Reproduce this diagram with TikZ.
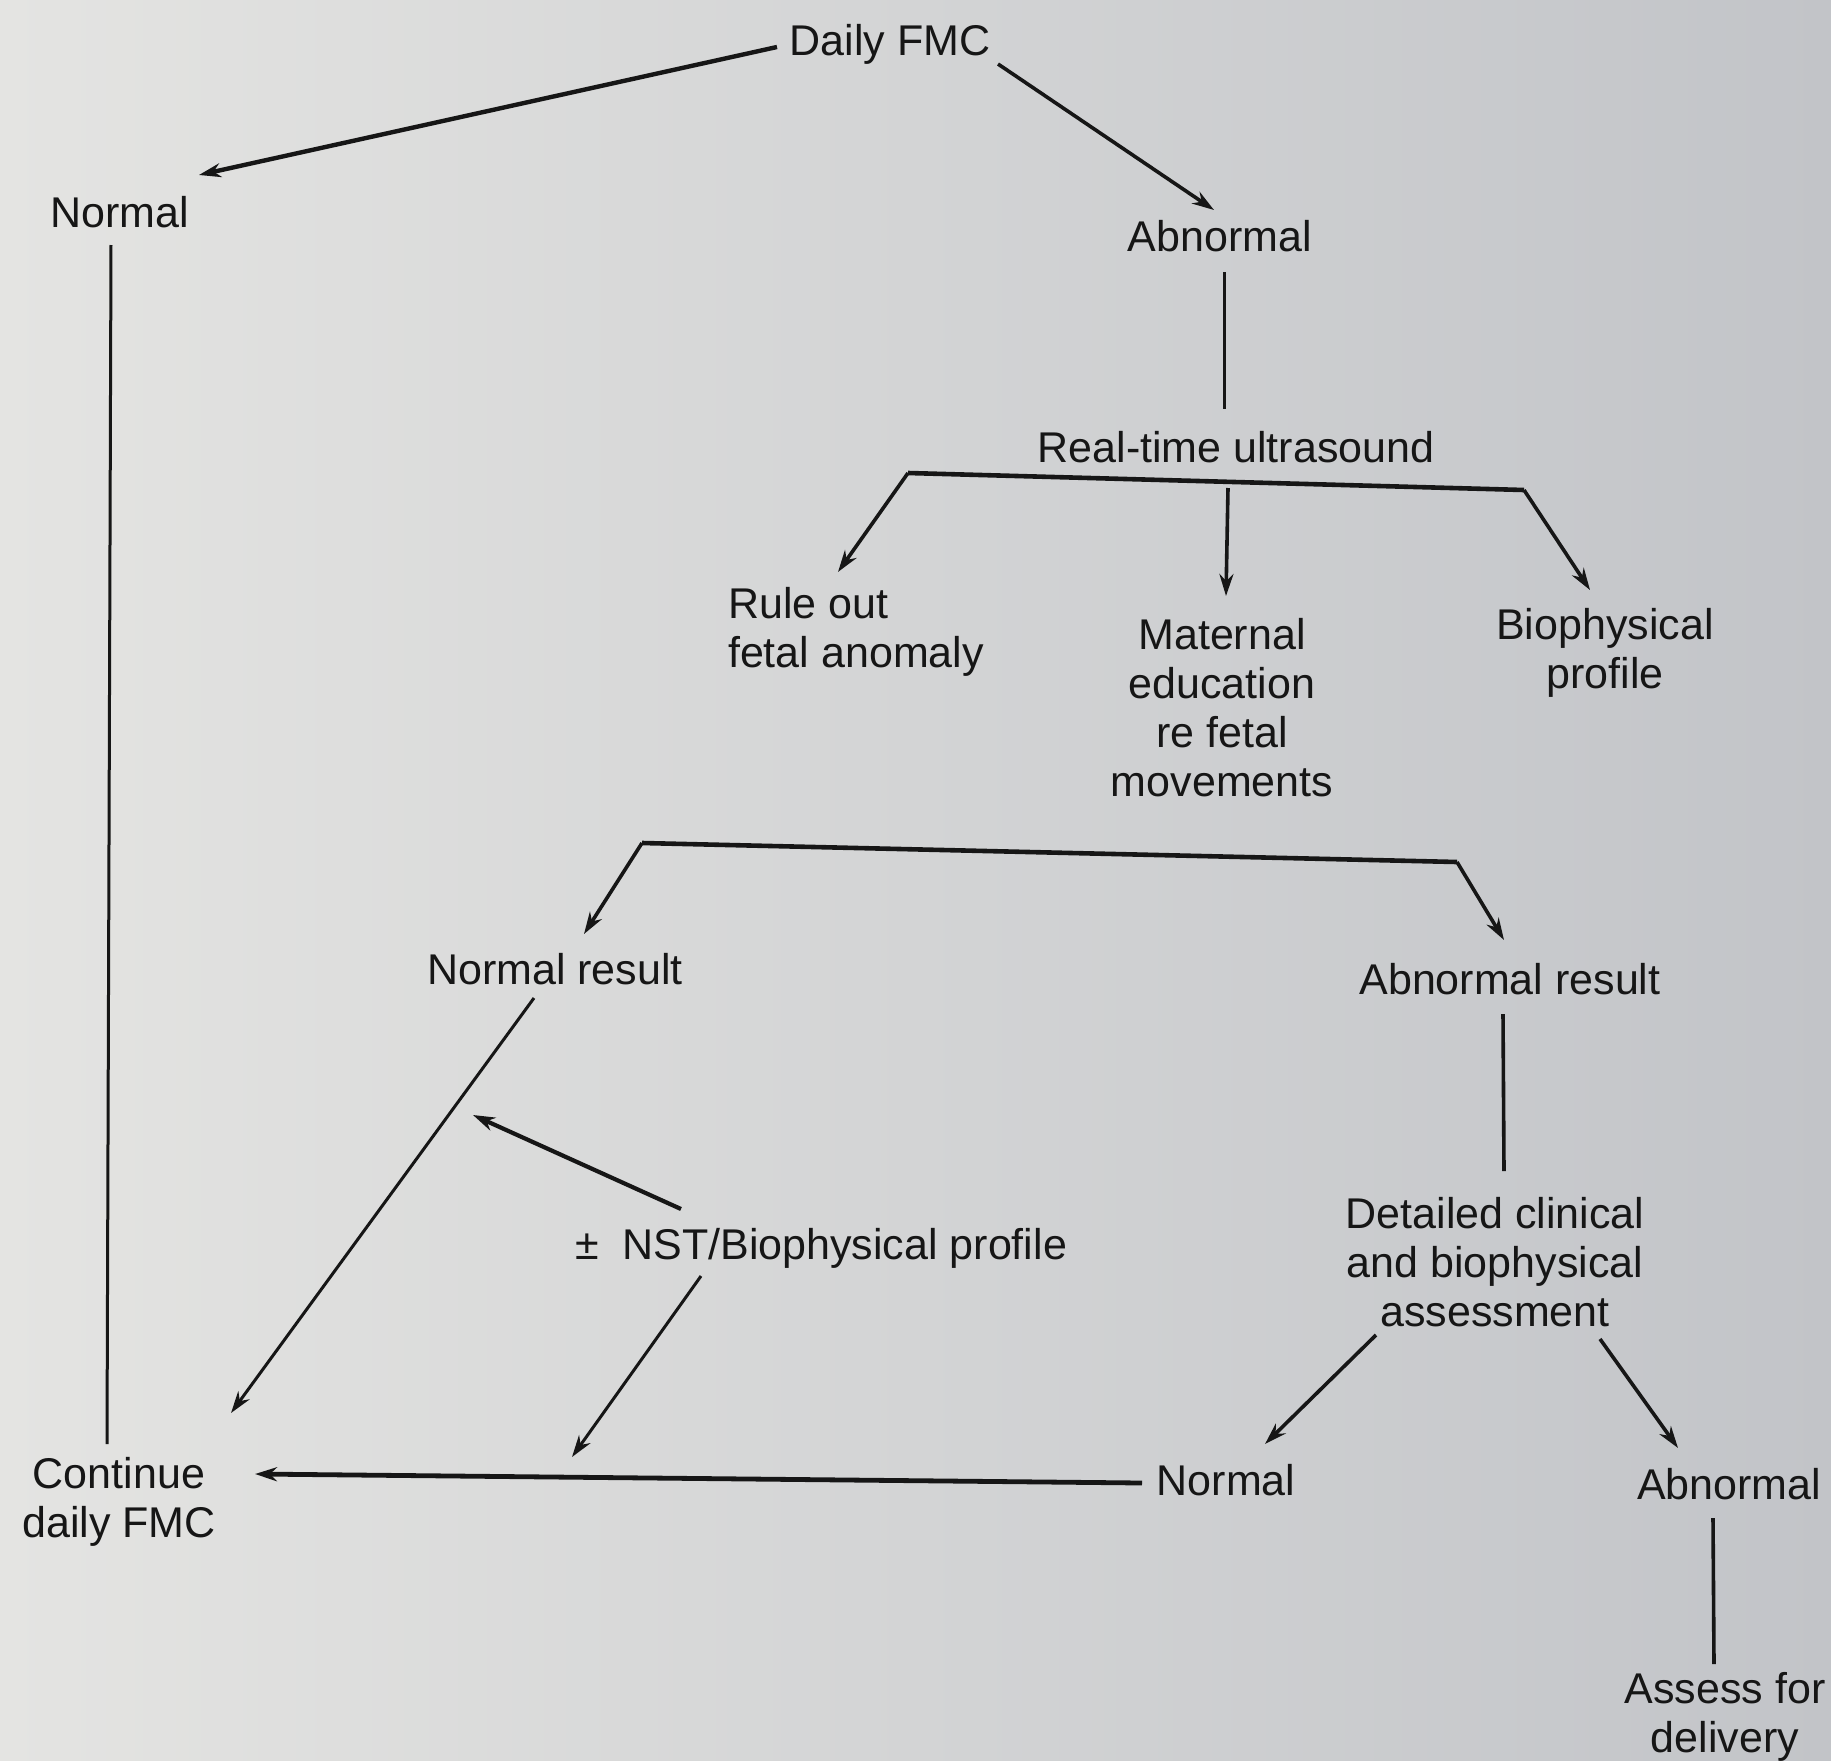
\documentclass[tikz,border=0pt]{standalone}
\usepackage{fontspec}
\setmainfont{Liberation Sans}
\usetikzlibrary{arrows.meta,calc}
\definecolor{bgleft}{RGB}{228,228,226}
\definecolor{bgright}{RGB}{194,196,200}
\definecolor{ink}{RGB}{22,22,22}
\begin{document}
\begin{tikzpicture}[x=1pt,y=-1pt,
  lbl/.style={text=ink,inner sep=0pt,align=center,font=\fontsize{43}{49}\selectfont},
  conn/.style={draw=ink,line width=3.6pt},
  bar/.style={draw=ink,line width=4.6pt},
  arr/.style={conn,-{Stealth[length=22pt,width=14pt]}}]
\useasboundingbox (0,0) rectangle (1831,1761);
\shade[left color=bgleft,right color=bgright] (0,0) rectangle (1831,1761);

% nodes
\node[lbl] (dfmc) at (890,44) {Daily FMC};
\node[lbl] (norm1) at (120,212) {Normal};
\node[lbl] (abn1) at (1220,236) {Abnormal};
\node[lbl] (rtu) at (1236,447) {Real-time ultrasound};
\node[lbl,align=left] (rule) at (856,632) {Rule out\\fetal anomaly};
\node[lbl] (mat) at (1222,708) {Maternal\\education\\re fetal\\movements};
\node[lbl] (bpp) at (1605,653) {Biophysical\\profile};
\node[lbl] (nres) at (555,969) {Normal result};
\node[lbl] (ares) at (1510,979) {Abnormal result};
\node[lbl] (nst) at (821,1248) {±\ \ NST/Biophysical profile};
\node[lbl] (det) at (1495,1262) {Detailed clinical\\and biophysical\\assessment};
\node[lbl] (cont) at (119,1502) {Continue\\daily FMC};
\node[lbl] (norm2) at (1226,1480) {Normal};
\node[lbl] (abn2) at (1729,1484) {Abnormal};
\node[lbl] (assess) at (1725,1717) {Assess for\\delivery};

% branch coordinates
\coordinate (b1L) at (908,473);
\coordinate (b1R) at (1524,490);
\coordinate (b1M) at (1228,488);
\coordinate (b2L) at (642,843);
\coordinate (b2R) at (1457,862);
\coordinate (onres) at (473,1115);
\coordinate (onbot) at (572,1457);

% connectors
\draw[arr,line width=4.4pt] ($(dfmc)+(-113,3)$) -- ($(norm1)+(79,-37)$);
\draw[arr] ($(dfmc)+(108,20)$) -- ($(abn1)+(-6,-26)$);
\draw[conn,line width=3pt] ($(norm1)+(-9,33)$) -- ($(cont)+(-12,-58)$);
\draw[conn,line width=3pt] ($(abn1)+(4,36)$) -- ($(rtu)+(-12,-38)$);

\draw[bar] (b1L) -- (b1R);
\draw[arr] (b1L) -- ($(rule)+(-18,-60)$);
\draw[arr] (b1M) -- ($(mat)+(4,-112)$);
\draw[arr] (b1R) -- ($(bpp)+(-15,-63)$);

\draw[bar] (b2L) -- (b2R);
\draw[arr] (b2L) -- ($(nres)+(29,-35)$);
\draw[arr] (b2R) -- ($(ares)+(-6,-39)$);

\draw[arr,line width=3pt] ($(nres)+(-21,29)$) -- ($(cont)+(112,-89)$);
\draw[arr,line width=4.2pt] ($(nst)+(-140,-39)$) -- (onres);
\draw[arr,line width=3pt] ($(nst)+(-120,28)$) -- (onbot);

\draw[conn] ($(ares)+(-7,35)$) -- ($(det)+(9,-91)$);
\draw[arr] ($(det)+(-119,73)$) -- ($(norm2)+(39,-36)$);
\draw[arr] ($(det)+(105,77)$) -- ($(abn2)+(-51,-36)$);
\draw[arr,line width=4.8pt] ($(norm2)+(-84,3)$) -- ($(cont)+(136,-28)$);
\draw[conn] ($(abn2)+(-16,34)$) -- ($(assess)+(-11,-53)$);
\end{tikzpicture}
\end{document}
